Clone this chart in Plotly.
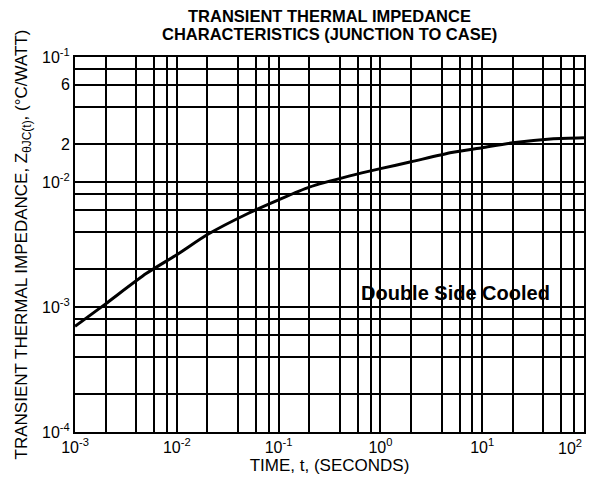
import numpy as np
import plotly.graph_objects as go

# curve
time_s = [1e-3, 2e-3, 5e-3, 1e-2, 2e-2, 5e-2, 1e-1, 2e-1, 5e-1, 1, 2, 5, 10, 20, 50, 100]
z_thjc = [7.0e-4, 1.06e-3, 1.85e-3, 2.62e-3, 3.8e-3, 5.6e-3, 7.2e-3, 9.1e-3,
          1.12e-2, 1.28e-2, 1.45e-2, 1.72e-2, 1.88e-2, 2.06e-2, 2.22e-2, 2.26e-2]

# grid at 1, 2, 4, 6, 8 of every decade
grid_x = [m * 10.0 ** e for e in range(-3, 2) for m in (1, 2, 4, 6, 8)] + [100]
grid_y = [m * 10.0 ** e for e in range(-4, -1) for m in (1, 2, 4, 6, 8)] + [0.1]

x_labels = {1e-3: "10<sup>-3</sup>", 1e-2: "10<sup>-2</sup>", 1e-1: "10<sup>-1</sup>",
            1.0: "10<sup>0</sup>", 10.0: "10<sup>1</sup>"}
y_labels = {1e-4: "10<sup>-4</sup>", 1e-3: "10<sup>-3</sup>", 1e-2: "10<sup>-2</sup>",
            2e-2: "2", 6e-2: "6", 1e-1: "10<sup>-1</sup>"}


def label(v, table):
    for k, t in table.items():
        if abs(np.log10(v) - np.log10(k)) < 1e-6:
            return t
    return ""


FONT = "Liberation Sans, Arial, Helvetica"

fig = go.Figure()
fig.add_trace(go.Scatter(
    x=time_s, y=z_thjc, mode="lines",
    line=dict(color="black", width=3, shape="spline", smoothing=0.6),
    showlegend=False, hoverinfo="skip",
))

fig.add_annotation(
    x=np.log10(5.5), y=np.log10(1.29e-3), xref="x", yref="y",
    text="<b>Double Side Cooled</b>", showarrow=False,
    font=dict(size=20, color="black"),
)

# last x tick label sits inside the right edge
fig.add_annotation(
    x=1.0, xref="paper", y=0, yref="paper", yshift=-3,
    xanchor="right", yanchor="top", showarrow=False,
    text="10<sup>2</sup>", font=dict(size=16, color="black"),
)

# two-line title (page has an 8px body margin, so pixel targets are shifted)
for txt, ypx in [("TRANSIENT THERMAL IMPEDANCE", 8),
                 ("CHARACTERISTICS (JUNCTION TO CASE)", 26)]:
    fig.add_annotation(
        x=0.5, xref="paper", y=1 + (49 - ypx) / 375, yref="paper",
        xanchor="center", yanchor="middle", showarrow=False,
        text="<b>" + txt + "</b>", font=dict(size=16.5, color="black"),
    )

fig.update_layout(
    width=602, height=485,
    margin=dict(l=67, r=26, t=49, b=61, autoexpand=False),
    paper_bgcolor="white", plot_bgcolor="white",
    font=dict(family=FONT, color="black", size=16),
    xaxis=dict(
        type="log", range=[-3, 2], automargin=False,
        tickvals=grid_x, ticktext=[label(v, x_labels) for v in grid_x],
        tickfont=dict(size=16),
        showgrid=True, gridcolor="black", gridwidth=1.6,
        showline=True, linecolor="black", linewidth=2, mirror=True,
        ticks="", ticklen=0, zeroline=False,
        title=dict(text="TIME, t, (SECONDS)", font=dict(size=17), standoff=4),
    ),
    yaxis=dict(
        type="log", range=[-4, -1], automargin=False,
        tickvals=grid_y, ticktext=[label(v, y_labels) for v in grid_y],
        tickfont=dict(size=16),
        showgrid=True, gridcolor="black", gridwidth=1.6,
        showline=True, linecolor="black", linewidth=2, mirror=True,
        ticks="", ticklen=0, zeroline=False,
        title=dict(text="TRANSIENT THERMAL IMPEDANCE, Z<sub>θJC(t)</sub>, (°C/WATT)",
                   font=dict(size=17), standoff=10),
    ),
)

fig.write_html("out.html")
